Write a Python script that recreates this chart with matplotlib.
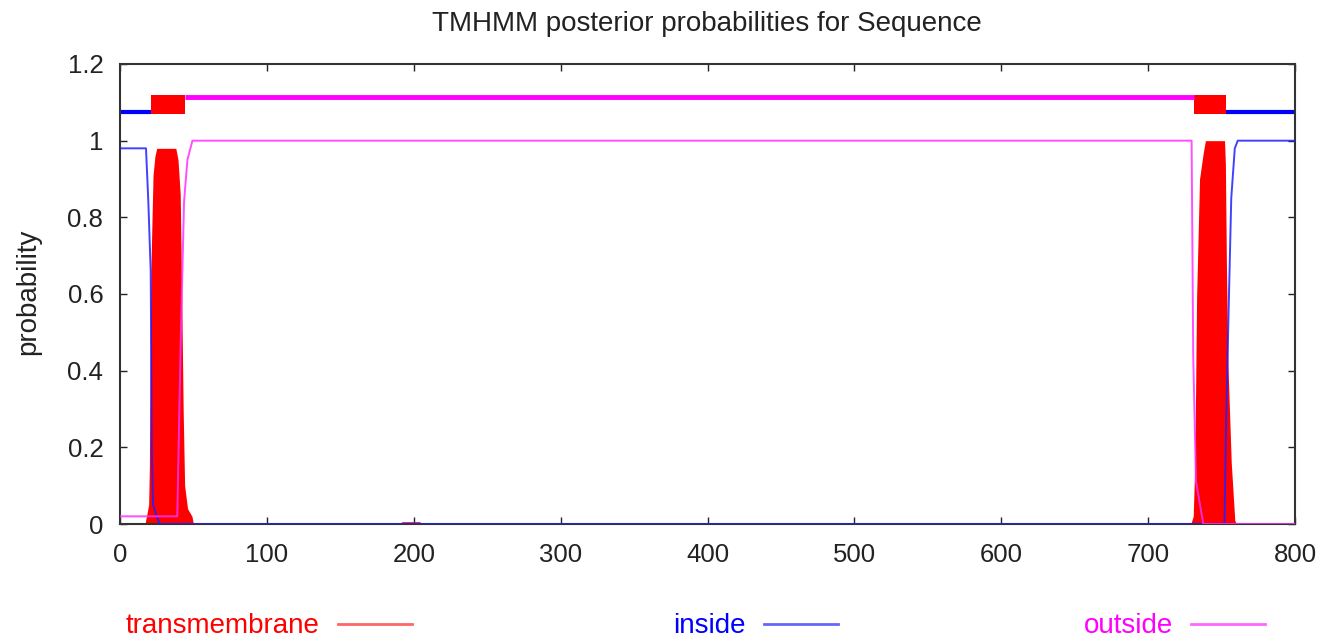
import matplotlib
matplotlib.use('Agg')
import matplotlib.pyplot as plt
from matplotlib.lines import Line2D
from matplotlib.ticker import FuncFormatter

# ----- styles -----
plt.rcParams['font.family'] = ['Liberation Sans', 'DejaVu Sans']
tick_font_size = 18.5
label_font_size = 20

# ----- data -----
# transmembrane posterior (drawn as filled impulses)
tm_x = [0, 17, 18, 19.5, 20, 21, 22.5, 23.8, 25, 38, 39.5, 41, 42, 43, 44, 46, 49, 50,
        190, 192, 204, 206,
        729, 730.7, 731.8, 733, 735, 737.6, 739, 752, 752.6, 753.3, 754.3, 756.6, 759, 760, 800]
tm_y = [0, 0, 0.02, 0.05, 0.15, 0.66, 0.91, 0.96, 0.98, 0.98, 0.95, 0.86, 0.6, 0.3, 0.1, 0.04, 0.02, 0,
        0, 0.006, 0.006, 0,
        0, 0.02, 0.16, 0.59, 0.9, 0.97, 1.0, 1.0, 0.94, 0.68, 0.42, 0.16, 0.01, 0, 0]

# inside posterior
in_x = [0, 17.7, 19.3, 20.9, 21.6, 22.5, 25, 27, 752, 753, 755, 756.6, 759, 761, 800]
in_y = [0.98, 0.98, 0.84, 0.66, 0.2, 0.05, 0.02, 0, 0, 0.245, 0.59, 0.85, 0.98, 1.0, 1.0]

# outside posterior
out_x = [0, 39, 41.3, 43.6, 45.9, 49.3, 729.6, 730.7, 732.6, 737.6, 800]
out_y = [0.02, 0.02, 0.47, 0.84, 0.95, 1.0, 1.0, 0.44, 0.11, 0, 0]

# predicted topology (top track)
tm_segments = [(21, 44), (731, 753)]
inside_segments = [(0, 21), (753, 800)]
outside_segments = [(44, 731)]
seq_len = 800

# ----- figure -----
fig = plt.figure(figsize=(13.19, 6.38), dpi=100)
ax = fig.add_axes([120 / 1319, 1 - 524 / 638, 1175 / 1319, 460 / 638])

ax.fill_between(tm_x, 0, tm_y, color='#ff0000', lw=0, zorder=2)
ax.plot(in_x, in_y, color='#2020ff', lw=1.4, alpha=0.85, zorder=4)
ax.plot(out_x, out_y, color='#ff30ff', lw=1.4, alpha=0.85, zorder=4)

for a, b in tm_segments:
    ax.fill_between([a, b], 1.07, 1.12, color='#ff0000', lw=0, zorder=2)
for a, b in inside_segments:
    ax.plot([a, b], [1.075, 1.075], color='#0000ff', lw=3, solid_capstyle='butt', zorder=2)
for a, b in outside_segments:
    ax.plot([a, b], [1.115, 1.115], color='#ff00ff', lw=3.5, solid_capstyle='butt', zorder=2)

ax.set_xlim(0, seq_len)
ax.set_ylim(0, 1.2)
ax.set_xticks(range(0, 801, 100))
ax.set_yticks([0, 0.2, 0.4, 0.6, 0.8, 1.0, 1.2])
ax.yaxis.set_major_formatter(FuncFormatter(lambda v, p: '{:g}'.format(round(v, 1))))
ax.tick_params(direction='in', length=5, width=1, top=True, right=True,
               labelsize=tick_font_size, colors='#222222')
ax.tick_params(axis='y', pad=12)
ax.tick_params(axis='x', pad=14)
for s in ax.spines.values():
    s.set_linewidth(1.5)
    s.set_color('#333333')

fig.text(28 / 1319, 1 - 292 / 638, 'probability', fontsize=label_font_size,
         rotation=90, ha='center', va='center', color='#222222')
fig.text(707 / 1319, 1 - 24 / 638, 'TMHMM posterior probabilities for Sequence',
         fontsize=20, ha='center', va='center', color='#222222')

# ----- key below the plot -----
keys = [('transmembrane', '#ff0000', 320), ('inside', '#0000ff', 746), ('outside', '#ff00ff', 1173)]
for name, col, xr in keys:
    fig.text(xr / 1319, 1 - 626 / 638, name, color=col, fontsize=20, ha='right', va='center')
    fig.add_artist(Line2D([(xr + 18) / 1319, (xr + 92) / 1319], [1 - 624 / 638] * 2,
                          color=col, lw=2, alpha=0.6))

plt.savefig('out.png')
